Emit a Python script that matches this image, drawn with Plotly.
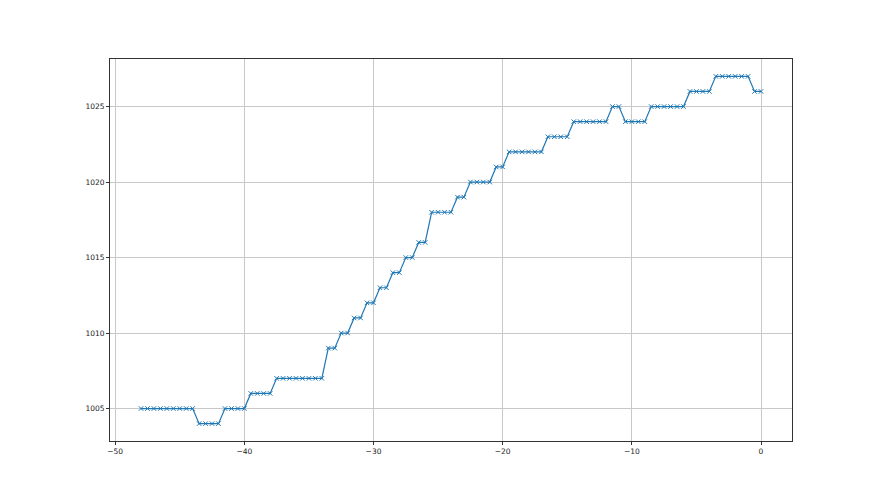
import plotly.graph_objects as go

hours = [-48.0, -47.5, -47.0, -46.5, -46.0, -45.5, -45.0, -44.5, -44.0,
         -43.5, -43.0, -42.5, -42.0,
         -41.5, -41.0, -40.5, -40.0,
         -39.5, -39.0, -38.5, -38.0,
         -37.5, -37.0, -36.5, -36.0, -35.5, -35.0, -34.5, -34.0,
         -33.5, -33.0, -32.5, -32.0, -31.5, -31.0, -30.5, -30.0,
         -29.5, -29.0, -28.5, -28.0, -27.5, -27.0, -26.5, -26.0,
         -25.5, -25.0, -24.5, -24.0, -23.5, -23.0,
         -22.5, -22.0, -21.5, -21.0, -20.5, -20.0,
         -19.5, -19.0, -18.5, -18.0, -17.5, -17.0,
         -16.5, -16.0, -15.5, -15.0,
         -14.5, -14.0, -13.5, -13.0, -12.5, -12.0,
         -11.5, -11.0, -10.5, -10.0, -9.5, -9.0,
         -8.5, -8.0, -7.5, -7.0, -6.5, -6.0,
         -5.5, -5.0, -4.5, -4.0,
         -3.5, -3.0, -2.5, -2.0, -1.5, -1.0,
         -0.5, 0.0]

pressure = [1005, 1005, 1005, 1005, 1005, 1005, 1005, 1005, 1005,
            1004, 1004, 1004, 1004,
            1005, 1005, 1005, 1005,
            1006, 1006, 1006, 1006,
            1007, 1007, 1007, 1007, 1007, 1007, 1007, 1007,
            1009, 1009, 1010, 1010, 1011, 1011, 1012, 1012,
            1013, 1013, 1014, 1014, 1015, 1015, 1016, 1016,
            1018, 1018, 1018, 1018, 1019, 1019,
            1020, 1020, 1020, 1020, 1021, 1021,
            1022, 1022, 1022, 1022, 1022, 1022,
            1023, 1023, 1023, 1023,
            1024, 1024, 1024, 1024, 1024, 1024,
            1025, 1025, 1024, 1024, 1024, 1024,
            1025, 1025, 1025, 1025, 1025, 1025,
            1026, 1026, 1026, 1026,
            1027, 1027, 1027, 1027, 1027, 1027,
            1026, 1026]

x_ticks = [-50, -40, -30, -20, -10, 0]
x_tick_labels = ["\u221250", "\u221240", "\u221230", "\u221220", "\u221210", "0"]
y_ticks = [1005, 1010, 1015, 1020, 1025]
y_tick_labels = ["1005", "1010", "1015", "1020", "1025"]

blue = "#1f77b4"

fig = go.Figure()
fig.add_trace(go.Scatter(
    x=hours, y=pressure, mode="lines+markers",
    line=dict(color=blue, width=1.2),
    marker=dict(symbol="x-thin", size=4.5, color=blue,
                line=dict(color=blue, width=1)),
    showlegend=False,
))

axis_common = dict(
    showgrid=True, gridcolor="#c8c8c8", gridwidth=0.8,
    showline=True, linecolor="#333333", linewidth=1, mirror=True,
    ticks="outside", ticklen=3, tickwidth=1, tickcolor="#333333",
    zeroline=False,
    tickfont=dict(family="DejaVu Sans", size=7.5, color="#222222"),
)

fig.update_layout(
    width=872, height=487,
    margin=dict(l=102, r=88, t=51, b=54),
    paper_bgcolor="white", plot_bgcolor="white",
    xaxis=dict(range=[-50.4, 2.4], tickvals=x_ticks, ticktext=x_tick_labels,
               **axis_common),
    yaxis=dict(range=[1002.85, 1028.15], tickvals=y_ticks,
               ticktext=y_tick_labels, **axis_common),
)

fig.write_html("out.html")
